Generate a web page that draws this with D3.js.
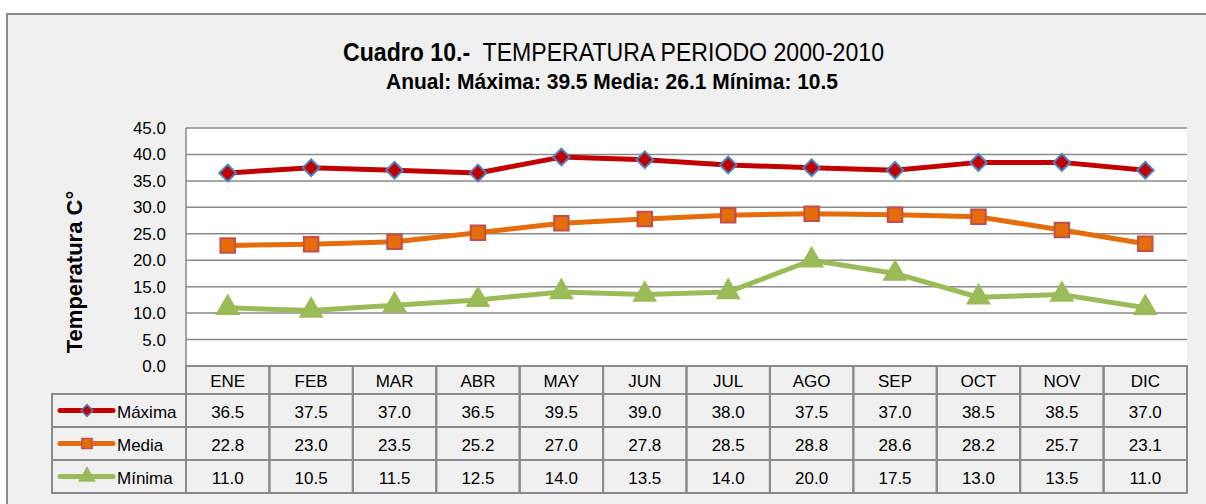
<!DOCTYPE html>
<html lang="es">
<head>
<meta charset="UTF-8">
<title>Cuadro 10 - Temperatura</title>
<script src="https://cdn.jsdelivr.net/npm/d3@7"></script>
<style>
  body { margin: 0; background: #fff; }
  text { font-family: "Liberation Sans", Arial, sans-serif; fill: #000; }
</style>
</head>
<body>
<svg width="1206" height="504"></svg>
<script>
// data
const months = ["ENE","FEB","MAR","ABR","MAY","JUN","JUL","AGO","SEP","OCT","NOV","DIC"];
const maxima = [36.5, 37.5, 37.0, 36.5, 39.5, 39.0, 38.0, 37.5, 37.0, 38.5, 38.5, 37.0];
const media  = [22.8, 23.0, 23.5, 25.2, 27.0, 27.8, 28.5, 28.8, 28.6, 28.2, 25.7, 23.1];
const minima = [11.0, 10.5, 11.5, 12.5, 14.0, 13.5, 14.0, 20.0, 17.5, 13.0, 13.5, 11.0];
const yTicks = [0, 5, 10, 15, 20, 25, 30, 35, 40, 45];

const series = [
  { name: "Máxima", values: maxima, color: "#c00000", marker: d3.symbolSquare,  size: 140, rot: 45, fill: "#c00000", stroke: "#4f81bd" },
  { name: "Media",  values: media,  color: "#e46c0a", marker: d3.symbolSquare,  size: 210, rot: 0,  fill: "#e46c0a", stroke: "#c0504d" },
  { name: "Mínima", values: minima, color: "#9bbb59", marker: d3.symbolTriangle, size: 200, rot: 0, fill: "#9bbb59", stroke: "#9bbb59" }
];

const svg = d3.select("svg");
const pLeft = 186, pRight = 1187, pTop = 128, pBottom = 366;
const rowH = 33, headH = 28, legLeft = 52;
const fs = 17;

// outer frame
svg.append("rect").attr("x", 7).attr("y", 14).attr("width", 1220).attr("height", 500)
  .attr("fill", "#f0f0f0").attr("stroke", "#8c8c8c").attr("stroke-width", 2);

const x = d3.scaleBand().domain(months).range([pLeft, pRight]);
const y = d3.scaleLinear().domain([0, 45]).range([pBottom, pTop]);

// plot area
svg.append("rect").attr("x", pLeft).attr("y", pTop).attr("width", pRight - pLeft).attr("height", pBottom - pTop)
  .attr("fill", "#fff");

svg.append("g").selectAll("line").data(yTicks).enter().append("line")
  .attr("x1", pLeft).attr("x2", pRight)
  .attr("y1", d => y(d)).attr("y2", d => y(d))
  .attr("stroke", "#8a8a8a").attr("stroke-width", 1.5);

svg.append("line").attr("x1", pLeft).attr("x2", pLeft).attr("y1", pTop).attr("y2", pBottom)
  .attr("stroke", "#8a8a8a").attr("stroke-width", 1.5);

// y axis
const yAxis = svg.append("g").attr("transform", `translate(${pLeft},0)`)
  .call(d3.axisLeft(y).tickValues(yTicks).tickFormat(d3.format(".1f")).tickSize(0).tickPadding(20));
yAxis.select(".domain").remove();
yAxis.attr("font-family", null).attr("font-size", null);
yAxis.selectAll("text").style("font-size", fs + "px").attr("fill", "#000");

svg.append("text").attr("transform", "translate(82,272) rotate(-90)")
  .attr("text-anchor", "middle").style("font-size", "22px").style("font-weight", "bold")
  .text("Temperatura C°");

// title (condensed to match the narrow face of the original)
const title = svg.append("text").attr("x", 343).attr("y", 61)
  .style("font-size", "25px").attr("xml:space", "preserve")
  .attr("textLength", 541).attr("lengthAdjust", "spacingAndGlyphs");
title.append("tspan").style("font-weight", "bold").text("Cuadro 10.-");
title.append("tspan").text("  TEMPERATURA PERIODO 2000-2010");
svg.append("text").attr("x", 386).attr("y", 89)
  .style("font-size", "22px").style("font-weight", "bold")
  .attr("textLength", 452).attr("lengthAdjust", "spacingAndGlyphs")
  .text("Anual: Máxima: 39.5 Media: 26.1 Mínima: 10.5");

// lines and markers
const cx = m => x(m) + x.bandwidth() / 2;
const line = d3.line().x((d, i) => cx(months[i])).y(d => y(d));
series.forEach(s => {
  svg.append("path").datum(s.values).attr("d", line)
    .attr("fill", "none").attr("stroke", s.color).attr("stroke-width", 5).attr("stroke-linejoin", "round");
  svg.append("g").selectAll("path").data(s.values).enter().append("path")
    .attr("d", d3.symbol().type(s.marker).size(s.size))
    .attr("transform", (d, i) => `translate(${cx(months[i])},${y(d)}) rotate(${s.rot})`)
    .attr("fill", s.fill).attr("stroke", s.stroke).attr("stroke-width", 2);
});

// data table
const tbl = svg.append("g");
const tBottom = pBottom + headH + rowH * 3;
tbl.append("g").selectAll("rect").data(months).enter().append("rect")
  .attr("x", d => x(d)).attr("y", pBottom).attr("width", x.bandwidth()).attr("height", tBottom - pBottom)
  .attr("fill", "none").attr("stroke", "#8a8a8a").attr("stroke-width", 2);
tbl.append("rect").attr("x", legLeft).attr("y", pBottom + headH).attr("width", pRight - legLeft).attr("height", rowH * 3)
  .attr("fill", "none").attr("stroke", "#8a8a8a").attr("stroke-width", 2);
[1, 2].forEach(r => tbl.append("line")
  .attr("x1", legLeft).attr("x2", pRight)
  .attr("y1", pBottom + headH + rowH * r).attr("y2", pBottom + headH + rowH * r)
  .attr("stroke", "#8a8a8a").attr("stroke-width", 2));
tbl.append("line").attr("x1", pLeft).attr("x2", pLeft).attr("y1", pBottom).attr("y2", tBottom)
  .attr("stroke", "#8a8a8a").attr("stroke-width", 2);

tbl.append("g").selectAll("text").data(months).enter().append("text")
  .attr("x", d => cx(d)).attr("y", pBottom + headH / 2 + 7)
  .attr("text-anchor", "middle").style("font-size", fs + "px").text(d => d);

series.forEach((s, r) => {
  const cy = pBottom + headH + rowH * r + rowH / 2;
  tbl.append("g").selectAll("text").data(s.values).enter().append("text")
    .attr("x", (d, i) => cx(months[i])).attr("y", cy + 7)
    .attr("text-anchor", "middle").style("font-size", fs + "px").text(d => d.toFixed(1));
  // legend key
  tbl.append("line").attr("x1", 60).attr("x2", 113).attr("y1", cy).attr("y2", cy)
    .attr("stroke", s.color).attr("stroke-width", 5).attr("stroke-linecap", "round");
  tbl.append("path").attr("d", d3.symbol().type(s.marker).size(s.size * 0.5))
    .attr("transform", `translate(87,${cy}) rotate(${s.rot})`)
    .attr("fill", s.fill).attr("stroke", s.stroke).attr("stroke-width", 1.5);
  tbl.append("text").attr("x", 117).attr("y", cy + 7).style("font-size", fs + "px").text(s.name);
});
</script>
</body>
</html>
